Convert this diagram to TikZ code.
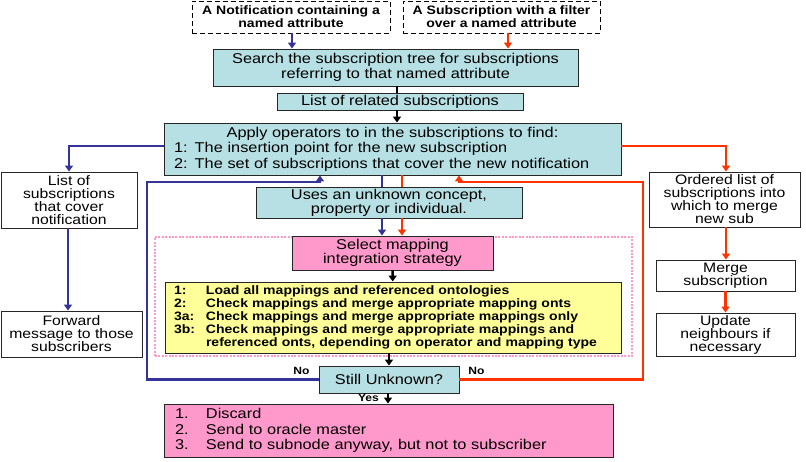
\documentclass[tikz,border=0pt]{standalone}
\usepackage{fontspec}
\setmainfont{Liberation Sans}[FakeStretch=1.15]
\usepackage{tikz}
\usetikzlibrary{arrows.meta, positioning, backgrounds}
\definecolor{boxteal}{RGB}{183, 224, 228}
\definecolor{boxpink}{RGB}{255, 153, 204}
\definecolor{boxyellow}{RGB}{255, 255, 153}
\definecolor{pathblue}{RGB}{51, 51, 153}
\definecolor{pathred}{RGB}{255, 51, 0}
\newcommand{\regfont}{\fontsize{14.2}{15.5}\selectfont}
\newcommand{\sidefont}{\fontsize{13.7}{13}\selectfont}
\newcommand{\heavyfont}{\fontsize{12.2}{13}\selectfont\bfseries}
\newcommand{\itemlab}[2][32pt]{\makebox[#1][l]{#2}}
\tikzset{
  stepbox/.style={rectangle, draw=black!85, line width=0.9pt, fill=boxteal,
    align=center, inner sep=1pt, font=\regfont},
  inbox/.style={rectangle, draw=black, dash pattern=on 5pt off 3pt, line width=0.8pt,
    fill=white, align=center, inner sep=1pt, font=\heavyfont},
  sidebox/.style={rectangle, draw=black!85, line width=0.9pt, fill=white,
    align=center, inner sep=1pt, font=\sidefont},
  pinkbox/.style={rectangle, draw=black!85, line width=0.9pt, fill=boxpink,
    align=center, inner sep=1pt, font=\regfont},
  yellowbox/.style={rectangle, draw=black!85, line width=0.9pt, fill=boxyellow,
    align=left, inner sep=1pt, font=\heavyfont},
  mapframe/.style={rectangle, draw=boxpink, dash pattern=on 2pt off 1.4pt, line width=2pt},
  tag/.style={font=\fontsize{10.5}{11}\selectfont\bfseries, inner sep=0pt},
  bluearrow/.style={-{Triangle[length=6pt, width=8pt]}, line width=2.4pt, color=pathblue},
  redarrow/.style={-{Triangle[length=6pt, width=8pt]}, line width=2.4pt, color=pathred},
  blackarrow/.style={-{Triangle[length=6pt, width=8pt]}, line width=2.4pt, color=black},
}

\begin{document}
\begin{tikzpicture}[x=1pt, y=-1pt]
  \useasboundingbox (0,0) rectangle (806,462);

  % ── Inputs ──
  \node[inbox, minimum width=198, minimum height=32] (notif) at (291,17)
    {A Notification containing a\\named attribute};
  \node[inbox, minimum width=197, minimum height=32] (subin) at (501.5,17)
    {A Subscription with a filter\\over a named attribute};

  % ── Search ──
  \node[stepbox, minimum width=365, minimum height=37] (search) at (395.5,67.5)
    {Search the subscription tree for subscriptions\\referring to that named attribute};
  \node[stepbox, minimum width=246, minimum height=17] (related) at (400,101.5)
    {List of related subscriptions};

  % ── Operators ──
  \node[stepbox, minimum width=457, minimum height=52, text width=437pt,
    align=left, inner xsep=10pt] (apply) at (392.5,149)
    {\makebox[437pt]{Apply operators to in the subscriptions to find:}\\
     1: The insertion point for the new subscription\\
     2: The set of subscriptions that cover the new notification};

  % ── Left branch ──
  \node[sidebox, minimum width=136, minimum height=56] (covlist) at (69,200)
    {List of\\subscriptions\\that cover\\notification};
  \node[sidebox, minimum width=141, minimum height=46] (forward) at (71.5,334)
    {Forward\\message to those\\subscribers};

  % ── Right branch ──
  \node[sidebox, minimum width=151, minimum height=55] (ordered) at (724.5,199.5)
    {Ordered list of\\subscriptions into\\which to merge\\new sub};
  \node[sidebox, minimum width=139, minimum height=31] (merge) at (725.5,275.5)
    {Merge\\subscription};
  \node[sidebox, minimum width=139, minimum height=43] (update) at (725.5,334.5)
    {Update\\neighbours if\\necessary};

  % ── Mapping ──
  \node[stepbox, minimum width=266, minimum height=31, font=\fontsize{14.2}{12.5}\selectfont] (uses) at (389,202.5)
    {Uses an unknown concept,\\property or individual.};
  \node[mapframe, minimum width=477, minimum height=119] (mapzone) at (393.5,296.5) {};
  \node[pinkbox, minimum width=201, minimum height=34, font=\fontsize{14.2}{13}\selectfont] (select) at (392.5,253)
    {Select mapping\\integration strategy};
  \node[yellowbox, minimum width=456, minimum height=71, text width=438pt,
    inner xsep=9pt] (strat) at (393,317.5)
    {\itemlab{1:}Load all mappings and referenced ontologies\\
     \itemlab{2:}Check mappings and merge appropriate mapping onts\\
     \itemlab{3a:}Check mappings and merge appropriate mappings only\\
     \itemlab{3b:}Check mappings and merge appropriate mappings and\\
     \itemlab{}referenced onts, depending on operator and mapping type};

  % ── Outcome ──
  \node[stepbox, minimum width=140, minimum height=27] (still) at (389,379.5)
    {Still Unknown?};
  \node[pinkbox, minimum width=449, minimum height=53, text width=427pt,
    align=left, inner xsep=11pt] (final) at (388.5,430.5)
    {\itemlab[31pt]{1.}Discard\\
     \itemlab[31pt]{2.}Send to oracle master\\
     \itemlab[31pt]{3.}Send to subnode anyway, but not to subscriber};
  \node[tag] (nol) at (301.5,371) {No};
  \node[tag] (nor) at (476.5,371) {No};
  \node[tag] (yes) at (368.5,397.5) {Yes};

  \coordinate (bturn) at (147,182);
  \coordinate (rturn) at (643,182);

  % ── Arrows ──
  \draw[bluearrow] ([xshift=1]notif.south) -- ([xshift=1]notif.south |- search.north);
  \draw[redarrow] ([xshift=6.5]subin.south) -- ([xshift=6.5]subin.south |- search.north);
  \draw[line width=2.4pt] ([xshift=1.5]search.south) -- ([xshift=1.5]search.south |- related.north);
  \draw[blackarrow] ([xshift=-3]related.south) -- ([xshift=-3]related.south |- apply.north);
  \draw[bluearrow] ([yshift=3]apply.west) -| (covlist.north);
  \draw[redarrow] ([yshift=3]apply.east) -| ([xshift=1.5]ordered.north);
  \draw[bluearrow] ([xshift=-1]covlist.south) -- ([xshift=-1]covlist.south |- forward.north);
  \draw[redarrow] ([xshift=1.5]ordered.south) -- ([xshift=1.5]ordered.south |- merge.north);
  \draw[redarrow] (merge) -- (update);
  \draw[pathblue, line width=2.4pt] ([xshift=-10.5]apply.south) -- ([xshift=-10.5]apply.south |- uses.north);
  \draw[pathred, line width=2.4pt] ([xshift=9.5]apply.south) -- ([xshift=9.5]apply.south |- uses.north);
  \draw[bluearrow] ([xshift=-10.5]select.north |- uses.south) -- ([xshift=-10.5]select.north);
  \draw[redarrow] ([xshift=9.5]select.north |- uses.south) -- ([xshift=9.5]select.north);
  \draw[blackarrow] (select) -- (strat);
  \draw[blackarrow] ([xshift=-4]strat.south) -- (still);
  \draw[blackarrow] ([xshift=-1]still.south) -- ([xshift=-1]still.south |- final.north);
  \draw[bluearrow] (still.west) -| (bturn) -| ([xshift=-72.5]apply.south);
  \draw[redarrow] (still.east) -| (rturn) -| ([xshift=66.5]apply.south);

\end{tikzpicture}
\end{document}
